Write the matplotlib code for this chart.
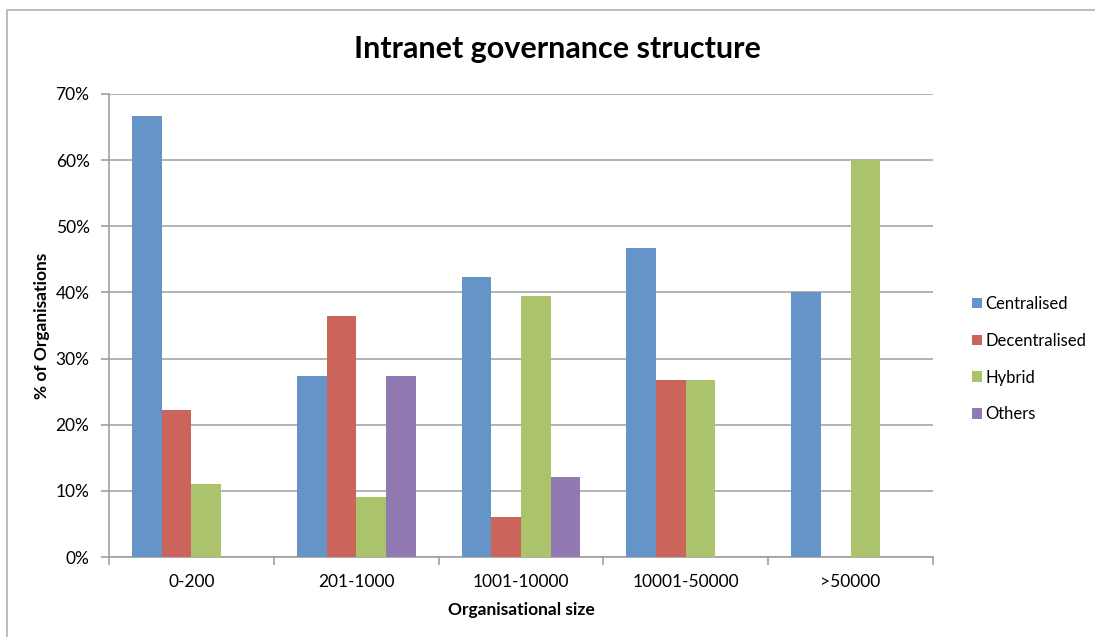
import numpy as np
import matplotlib
matplotlib.use("Agg")
import matplotlib.pyplot as plt
from matplotlib.ticker import FuncFormatter
from matplotlib.lines import Line2D

plt.rcParams['font.family'] = ['Lato', 'DejaVu Sans']

categories = ["0-200", "201-1000", "1001-10000", "10001-50000", ">50000"]
centralised = [66.7, 27.3, 42.4, 46.7, 40.0]
decentralised = [22.2, 36.4, 6.1, 26.7, 0.0]
hybrid = [11.1, 9.1, 39.4, 26.7, 60.0]
others = [0.0, 27.3, 12.1, 0.0, 0.0]

series = [("Centralised", centralised, "#6594C9"),
          ("Decentralised", decentralised, "#CB655B"),
          ("Hybrid", hybrid, "#ABC46B"),
          ("Others", others, "#9179B1")]

fig = plt.figure(figsize=(10.95, 6.37), dpi=100)
ax = fig.add_axes([109 / 1095, 1 - 557 / 637, (933 - 109) / 1095, (557 - 94) / 637])

x = np.arange(len(categories))
width = 0.18
start = 0.14
for i, (name, vals, color) in enumerate(series):
    ax.bar(x + start + width * i, vals, width=width, align="edge",
           color=color, edgecolor="none", label=name, zorder=3)

ax.set_xlim(0, len(categories))
ax.set_ylim(0, 70)
ax.set_yticks(np.arange(0, 71, 10))
ax.yaxis.set_major_formatter(FuncFormatter(lambda v, p: f"{int(v)}%"))
ax.set_xticks(np.arange(0, len(categories) + 1))
ax.set_xticklabels([])
ax.set_xticks(x + 0.5, minor=True)
ax.set_xticklabels(categories, minor=True, fontsize=12.5)
ax.tick_params(axis="x", which="minor", length=0, pad=12)
ax.tick_params(axis="x", which="major", length=6, color="#A0A0A0", width=1.2)
ax.tick_params(axis="y", length=6, color="#A0A0A0", width=1.2, labelsize=12.5, pad=8)

ax.grid(axis="y", color="#A6A6A6", linewidth=1.2, zorder=0)
for s in ["top", "right"]:
    ax.spines[s].set_visible(False)
for s in ["left", "bottom"]:
    ax.spines[s].set_color("#A0A0A0")
    ax.spines[s].set_linewidth(1.2)

ax.set_xlabel("Organisational size", fontsize=12.5, fontweight="bold", labelpad=9)
ax.set_ylabel("% of Organisations", fontsize=12.5, fontweight="bold", labelpad=4)
fig.text(557 / 1095, 1 - 49 / 637, "Intranet governance structure",
         fontsize=22, fontweight="bold", ha="center", va="center")

ax.legend(loc="upper left", bbox_to_anchor=(972 / 1095, 1 - 296 / 637),
          bbox_transform=fig.transFigure, frameon=False, fontsize=12,
          borderpad=0, borderaxespad=0,
          handlelength=0.6, handleheight=0.6, handletextpad=0.2, labelspacing=1.25)

# outer chart border (top and left)
fig.add_artist(Line2D([7 / 1095, 7 / 1095, 1], [0, 1 - 10 / 637, 1 - 10 / 637],
                      transform=fig.transFigure, color="#B0B0B0", linewidth=1.2))

fig.savefig("out.png", dpi=100, facecolor="white")
